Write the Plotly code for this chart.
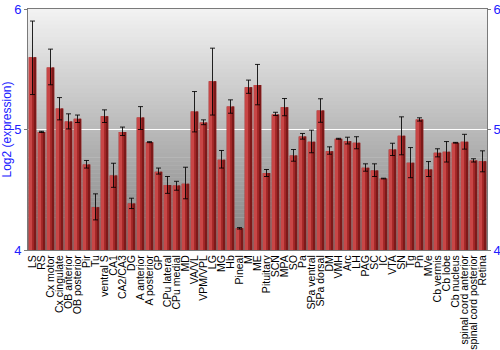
import plotly.graph_objects as go

categories = ["LS", "RS", "Cx motor", "Cx cingulate", "OB anterior", "OB posterior", "Pir", "Tu",
              "ventral S", "CA1", "CA2/CA3", "DG", "A anterior", "A posterior", "GP", "CPu lateral",
              "CPu medial", "MD", "VA/VL", "VPM/VPL", "LG", "MG", "Hb", "Pineal", "M", "ME",
              "Pituitary", "SCN", "MPA", "SO", "Pa", "SPa ventral", "SPa dorsal", "DM", "VMH", "Arc",
              "LH", "PAG", "SC", "IC", "VTA", "SN", "Tg", "Pn", "MVe", "Cb vermis", "Cb lobe",
              "Cb nucleus", "spinal cord anterior", "spinal cord posterior", "Retina"]

values = [5.60, 4.98, 5.515, 5.174, 5.066, 5.089, 4.71, 4.355,
          5.11, 4.618, 4.98, 4.386, 5.10, 4.895, 4.65, 4.54,
          4.535, 4.55, 5.15, 5.058, 5.40, 4.75, 5.19, 4.18, 5.35, 5.37,
          4.64, 5.125, 5.185, 4.784, 4.942, 4.898, 5.158, 4.82, 4.923, 4.903,
          4.89, 4.682, 4.66, 4.593, 4.834, 4.948, 4.724, 5.083, 4.668, 4.807, 4.815,
          4.89, 4.898, 4.743, 4.737]

err_plus = [0.30, 0.005, 0.152, 0.091, 0.064, 0.031, 0.033, 0.111,
            0.053, 0.102, 0.04, 0.044, 0.09, 0.004, 0.03, 0.07,
            0.035, 0.137, 0.165, 0.022, 0.275, 0.076, 0.056, 0.006, 0.06, 0.17,
            0.028, 0.018, 0.072, 0.05, 0.025, 0.097, 0.097, 0.036, 0.004, 0.033,
            0.05, 0.033, 0.055, 0.003, 0.052, 0.157, 0.126, 0.014, 0.066, 0.033, 0.085,
            0.003, 0.062, 0.014, 0.086]

err_minus = [0.31, 0.005, 0.144, 0.094, 0.061, 0.031, 0.03, 0.105,
             0.052, 0.098, 0.03, 0.042, 0.10, 0.004, 0.02, 0.07,
             0.039, 0.125, 0.17, 0.018, 0.28, 0.07, 0.055, 0.006, 0.05, 0.165,
             0.03, 0.009, 0.071, 0.047, 0.022, 0.091, 0.098, 0.025, 0.004, 0.023,
             0.05, 0.028, 0.05, 0.003, 0.05, 0.158, 0.124, 0.013, 0.058, 0.034, 0.085,
             0.003, 0.061, 0.013, 0.088]

y_ticks = [4, 5, 6]
y_title = "Log2 (expression)"

fig = go.Figure()

# bar body (dark base)
fig.add_trace(go.Bar(x=categories, y=values, width=0.86, offset=-0.43,
                     marker=dict(color="rgb(160,38,38)", line=dict(width=0)),
                     hoverinfo="skip", showlegend=False))
# lighter left strip
fig.add_trace(go.Bar(x=categories, y=values, width=0.36, offset=-0.40,
                     marker=dict(color="rgb(200,70,70)", line=dict(width=0)),
                     hoverinfo="skip", showlegend=False))
# darker right strip
fig.add_trace(go.Bar(x=categories, y=values, width=0.22, offset=0.18,
                     marker=dict(color="rgb(125,25,25)", line=dict(width=0)),
                     hoverinfo="skip", showlegend=False))
# error bars on top
fig.add_trace(go.Bar(x=categories, y=values, width=0.86, offset=-0.43,
                     marker=dict(color="rgba(0,0,0,0)", line=dict(width=0)),
                     error_y=dict(type="data", symmetric=False, array=err_plus,
                                  arrayminus=err_minus, color="rgba(0,0,0,0.85)",
                                  thickness=1, width=2.5),
                     showlegend=False))
# dummy trace for the right-hand axis
fig.add_trace(go.Scatter(x=categories, y=values, yaxis="y2", mode="markers",
                         marker=dict(opacity=0, size=1), hoverinfo="skip", showlegend=False))

# vertical gradient background
n = 60
top_c, bot_c = 243, 128
for i in range(n):
    t = (i + 0.5) / n
    c = int(round(top_c + (bot_c - top_c) * t))
    fig.add_shape(type="rect", xref="paper", yref="paper", x0=0, x1=1,
                  y0=1 - (i + 1) / n, y1=1 - i / n + 0.002, layer="below",
                  fillcolor=f"rgb({c},{c},{c})", line=dict(width=0))

blue = "#2020ff"
fig.update_layout(
    width=500, height=350,
    margin=dict(l=28, r=13, t=9, b=100),
    paper_bgcolor="white", plot_bgcolor="rgba(0,0,0,0)",
    barmode="overlay",
    font=dict(family="Liberation Sans, Arial, sans-serif", size=11, color="black"),
    xaxis=dict(tickangle=-90, tickfont=dict(size=10.5, color="black"), showgrid=False,
               tickmode="array", tickvals=categories, ticktext=categories,
               automargin=False,
               showline=True, mirror=True, linecolor="#7a7a7a", linewidth=1,
               ticks="", range=[-0.5, len(categories) - 0.5], zeroline=False),
    yaxis=dict(range=[4, 6], tickvals=y_ticks, ticktext=[str(v) for v in y_ticks],
               tickfont=dict(size=13, color=blue), showgrid=True, gridcolor="white",
               gridwidth=1.2, showline=True, linecolor="#7a7a7a", linewidth=1,
               ticks="outside", ticklen=3, tickcolor="#7a7a7a", zeroline=False,
               automargin=False,
               title=dict(text=y_title, font=dict(size=12, color=blue), standoff=2)),
    yaxis2=dict(range=[4, 6], tickvals=y_ticks, ticktext=[str(v) for v in y_ticks],
                tickfont=dict(size=13, color=blue), overlaying="y", side="right",
                showgrid=False, showline=True, linecolor="#7a7a7a", linewidth=1,
                automargin=False,
                ticks="outside", ticklen=3, tickcolor="#7a7a7a", zeroline=False),
)

fig.write_html("out.html")
